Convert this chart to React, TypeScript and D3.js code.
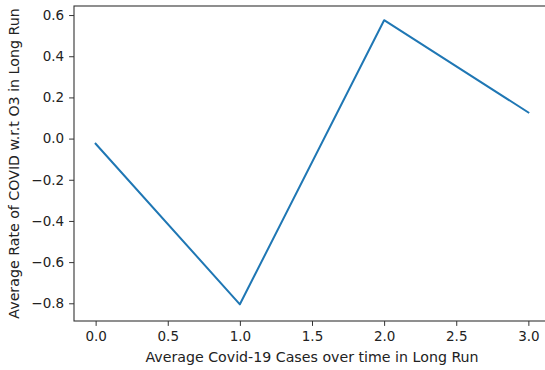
import React, { useEffect, useRef } from "react";
import * as d3 from "d3";

const xValues = [0, 1, 2, 3];
const yValues = [-0.025, -0.805, 0.575, 0.127];
const xTicks = [0, 0.5, 1, 1.5, 2, 2.5, 3];
const yTicks = [-0.8, -0.6, -0.4, -0.2, 0, 0.2, 0.4, 0.6];

const W = 545;
const H = 370;
const FONT = "DejaVu Sans, sans-serif";

export default function App() {
  const svgRef = useRef<SVGSVGElement>(null);

  useEffect(() => {
    const svg = d3.select(svgRef.current);
    svg.selectAll("*").remove();

    const left = 74, right = 550, top = 6, bottom = 321;

    const x = d3.scaleLinear().domain([-0.15, 3.15]).range([left, right]);
    const y = d3.scaleLinear().domain([-0.886, 0.644]).range([bottom, top]);

    // line
    const line = d3
      .line<number>()
      .x((d, i) => x(xValues[i]))
      .y((d) => y(d));
    svg
      .append("path")
      .datum(yValues)
      .attr("d", line)
      .attr("fill", "none")
      .attr("stroke", "#1f77b4")
      .attr("stroke-width", 2)
      .attr("stroke-linejoin", "round")
      .attr("stroke-linecap", "square");

    // spines
    svg
      .append("rect")
      .attr("x", left)
      .attr("y", top)
      .attr("width", right - left)
      .attr("height", bottom - top)
      .attr("fill", "none")
      .attr("stroke", "#333")
      .attr("stroke-width", 1.1);

    // x axis
    const xAxis = d3
      .axisBottom(x)
      .tickValues(xTicks)
      .tickFormat(d3.format(".1f"))
      .tickSize(4.9)
      .tickPadding(6);
    const gx = svg.append("g").attr("transform", `translate(0,${bottom})`).call(xAxis);
    gx.select(".domain").remove();
    gx.selectAll("line").attr("stroke", "#333");
    gx.selectAll("text")
      .attr("font-family", FONT)
      .attr("font-size", 13.5)
      .attr("fill", "#222");

    // y axis
    const yAxis = d3
      .axisLeft(y)
      .tickValues(yTicks)
      .tickFormat((d) => d3.format(".1f")(d as number).replace("-", "\u2212"))
      .tickSize(4.9)
      .tickPadding(5);
    const gy = svg.append("g").attr("transform", `translate(${left},0)`).call(yAxis);
    gy.select(".domain").remove();
    gy.selectAll("line").attr("stroke", "#333");
    gy.selectAll("text")
      .attr("font-family", FONT)
      .attr("font-size", 13.5)
      .attr("fill", "#222");

    // labels
    svg
      .append("text")
      .attr("x", (left + right) / 2)
      .attr("y", 362)
      .attr("text-anchor", "middle")
      .attr("font-family", FONT)
      .attr("font-size", 14.2)
      .attr("fill", "#222")
      .text("Average Covid-19 Cases over time in Long Run");

    svg
      .append("text")
      .attr("transform", `translate(18.5,${(top + bottom) / 2}) rotate(-90)`)
      .attr("text-anchor", "middle")
      .attr("font-family", FONT)
      .attr("font-size", 14.2)
      .attr("fill", "#222")
      .text("Average Rate of COVID w.r.t O3 in Long Run");
  }, []);

  return (
    <div style={{ position: "absolute", left: 0, top: 0, width: W, height: H, background: "#fff" }}>
      <svg ref={svgRef} width={W} height={H} style={{ display: "block" }} />
    </div>
  );
}
